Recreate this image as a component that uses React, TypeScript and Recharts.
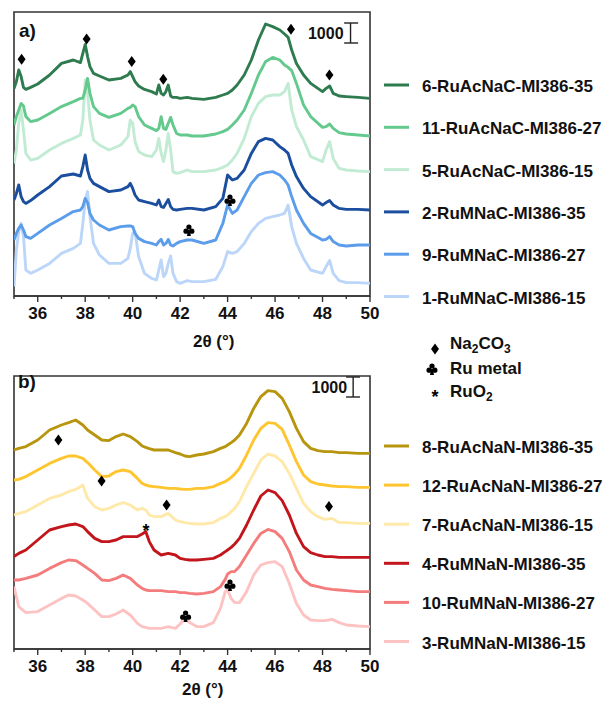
import React from 'react';
import { ComposedChart, Line, XAxis, YAxis, ReferenceLine, ReferenceArea, Scatter } from 'recharts';

const FONT = '"Liberation Sans", Arial, Helvetica, sans-serif';
const AXIS_COLOR = '#333333';
const TEXT_COLOR = '#111111';

// x-axis ticks (2θ, degrees); even values get labels
const TICKS = [35, 36, 37, 38, 39, 40, 41, 42, 43, 44, 45, 46, 47, 48, 49, 50];
const SCALE_BAR = 1000; // counts

// ---------------- Panel a ----------------
const A_THETA = [35.0, 35.1, 35.2, 35.3, 35.4, 35.5, 35.7, 36.0, 36.5, 37.0, 37.5, 37.8, 37.9, 38.0, 38.1, 38.2, 38.35, 38.6, 39.0, 39.5, 39.8, 39.9, 40.0, 40.1, 40.25, 40.5, 40.8, 41.0, 41.1, 41.2, 41.3, 41.4, 41.5, 41.6, 41.7, 41.85, 42.0, 42.3, 42.5, 43.0, 43.5, 43.8, 44.0, 44.2, 44.4, 44.7, 45.0, 45.3, 45.6, 45.9, 46.2, 46.4, 46.55, 46.7, 46.9, 47.2, 47.5, 48.0, 48.15, 48.3, 48.45, 48.7, 49.0, 49.5, 50.0];

const A_NAMES = ['6-RuAcNaC-MI386-35', '11-RuAcNaC-MI386-27', '5-RuAcNaC-MI386-15', '2-RuMNaC-MI386-35', '9-RuMNaC-MI386-27', '1-RuMNaC-MI386-15'];
const A_COLORS = ['#2E7B4F', '#64C98D', '#C2EBD3', '#1B4E9E', '#5B9CEB', '#BBD6F8'];

const A_RUACNAC_35 = [10330, 10670, 11250, 10920, 10380, 10280, 10380, 10550, 11000, 11580, 11750, 11620, 12080, 12530, 11920, 11420, 11080, 10950, 10750, 10830, 11000, 11170, 10920, 10670, 10450, 10280, 10170, 10050, 10500, 10080, 10000, 10170, 10500, 9950, 9880, 9880, 9830, 9880, 9830, 9780, 9880, 10000, 10080, 10250, 10500, 11000, 11750, 12750, 13550, 13420, 13250, 13050, 12880, 12250, 11580, 11000, 10580, 10170, 10330, 10450, 10080, 9950, 9920, 9880, 9830];
const A_RUACNAC_27 = [8500, 8920, 9250, 9580, 9450, 8920, 8670, 8750, 9080, 9420, 9670, 9830, 9830, 10250, 10830, 10080, 9420, 9080, 8880, 9080, 9330, 9380, 9500, 9420, 8920, 8500, 8330, 8220, 8330, 8920, 8330, 8280, 8580, 8880, 8500, 8080, 8000, 8000, 7950, 7950, 8050, 8170, 8280, 8500, 8750, 9250, 10080, 11000, 11670, 11880, 11750, 11500, 11380, 11220, 10580, 9500, 8920, 8380, 8420, 8550, 8330, 8120, 8050, 8000, 7950];
const A_RUACNAC_15 = [6580, 7250, 8580, 9250, 8250, 7080, 6750, 6830, 7250, 7580, 7830, 8000, 8750, 10750, 10080, 8750, 7750, 7500, 7250, 7500, 7920, 8750, 8580, 7670, 7170, 7000, 6920, 7250, 7830, 7080, 6670, 7250, 8080, 7250, 6170, 6080, 6120, 6250, 6170, 6170, 6250, 6380, 6500, 6750, 7080, 7830, 8920, 9580, 9920, 10000, 10000, 10170, 10580, 9250, 8420, 7750, 6920, 6670, 7250, 7670, 6830, 6330, 6250, 6200, 6170];
const A_RUMNAC_35 = [4750, 5080, 5500, 4920, 4670, 4580, 4720, 5000, 5420, 5950, 6050, 5950, 6420, 7000, 6250, 5830, 5580, 5420, 5170, 5250, 5420, 5580, 5330, 5000, 4750, 4670, 4580, 4500, 4750, 4420, 4380, 4580, 4780, 4420, 4280, 4250, 4280, 4330, 4330, 4250, 4420, 4830, 6000, 5750, 5830, 6250, 7080, 7670, 7830, 7750, 7420, 7250, 7080, 6500, 5920, 5330, 4920, 4500, 4620, 4720, 4500, 4330, 4280, 4280, 4250];
const A_RUMNAC_27 = [2750, 3080, 3330, 3500, 3250, 2920, 2830, 3080, 3500, 3830, 4170, 4250, 4420, 4830, 4620, 4080, 3750, 3500, 3250, 3420, 3450, 3450, 3420, 3080, 2830, 2670, 2580, 2500, 2670, 2780, 2500, 2580, 2780, 2500, 2450, 2580, 2670, 2750, 2750, 2580, 2750, 3580, 4500, 4080, 4250, 4920, 5580, 6000, 6120, 6170, 6000, 5750, 5500, 4920, 4250, 3580, 3080, 2750, 2780, 2920, 2670, 2500, 2450, 2500, 2500];
const A_RUMNAC_15 = [420, 2250, 3170, 3580, 2920, 1250, 1080, 1250, 1580, 2080, 2330, 2580, 3580, 4750, 5170, 3920, 2580, 2000, 1580, 1580, 1830, 2330, 3080, 3170, 1920, 1080, 830, 750, 1250, 1750, 920, 1080, 1580, 1950, 1080, 670, 580, 720, 670, 670, 780, 1420, 2170, 2080, 2170, 2580, 3170, 3580, 3830, 3920, 4000, 4080, 4500, 3420, 2580, 1830, 1250, 1080, 1420, 1720, 1080, 720, 620, 620, 580];

const A_DIAMONDS = [
  { x: 35.32, y: 11790 }, { x: 38.06, y: 12800 }, { x: 39.96, y: 11670 },
  { x: 41.29, y: 10790 }, { x: 46.67, y: 13290 }, { x: 48.29, y: 11000 },
];
const A_CLUBS = [{ x: 42.37, y: 3250 }, { x: 44.1, y: 4750 }];
const A_STARS: { x: number; y: number }[] = [];

// ---------------- Panel b ----------------
const B_THETA = [35.0, 35.2, 35.5, 36.0, 36.5, 37.0, 37.3, 37.6, 37.9, 38.1, 38.4, 38.7, 39.0, 39.3, 39.6, 39.9, 40.2, 40.4, 40.55, 40.7, 40.9, 41.2, 41.5, 41.8, 42.0, 42.2, 42.4, 42.7, 43.0, 43.4, 43.7, 43.9, 44.0, 44.15, 44.3, 44.5, 44.8, 45.1, 45.4, 45.7, 46.0, 46.3, 46.6, 46.9, 47.2, 47.5, 47.8, 48.1, 48.4, 48.7, 49.0, 49.5, 50.0];

const B_NAMES = ['8-RuAcNaN-MI386-35', '12-RuAcNaN-MI386-27', '7-RuAcNaN-MI386-15', '4-RuMNaN-MI386-35', '10-RuMNaN-MI386-27', '3-RuMNaN-MI386-15'];
const B_COLORS = ['#B8950E', '#FFC52E', '#FFE9A8', '#C2151C', '#F47C7C', '#FDC3C3'];

const B_RUACNAN_35 = [9950, 10030, 10120, 10450, 10950, 11200, 11320, 11450, 11200, 10950, 10700, 10450, 10420, 10620, 10750, 10620, 10370, 10150, 10080, 10020, 9950, 9950, 9950, 9820, 9750, 9650, 9620, 9700, 9750, 9870, 10030, 10120, 10200, 10320, 10450, 10700, 11280, 12030, 12620, 12920, 12870, 12530, 11870, 11030, 10370, 10030, 9920, 9870, 9870, 9820, 9820, 9780, 9780];
const B_RUACNAN_27 = [8450, 8480, 8620, 8950, 9280, 9530, 9650, 9650, 9530, 9320, 8950, 8620, 8650, 8870, 8950, 8870, 8530, 8280, 8200, 8150, 8120, 8080, 8030, 8030, 8000, 7980, 7980, 8030, 8030, 8120, 8280, 8370, 8450, 8580, 8750, 9030, 9700, 10450, 11030, 11320, 11280, 10980, 10200, 9370, 8700, 8370, 8250, 8200, 8150, 8120, 8120, 8080, 8080];
const B_RUACNAN_15 = [6700, 6780, 6870, 7200, 7530, 7700, 7870, 7980, 8200, 7530, 7120, 6950, 7030, 7200, 7320, 7200, 6950, 7030, 6950, 6700, 6620, 6620, 6780, 6450, 6370, 6320, 6280, 6250, 6250, 6320, 6530, 6620, 6700, 6870, 7030, 7370, 8120, 8780, 9450, 9750, 9650, 9370, 8780, 8030, 7280, 6870, 6620, 6480, 6530, 6320, 6320, 6280, 6280];
const B_RUMNAN_35 = [4620, 4780, 4950, 5450, 5950, 6120, 6200, 6250, 6120, 5870, 5530, 5370, 5370, 5450, 5620, 5620, 5620, 5750, 5870, 5370, 4950, 4700, 4780, 4700, 4530, 4480, 4450, 4450, 4480, 4530, 4700, 4870, 4950, 5080, 5250, 5530, 6200, 6950, 7650, 7950, 7820, 7420, 6700, 5780, 5120, 4820, 4700, 4620, 4620, 4580, 4580, 4580, 4580];
const B_RUMNAN_27 = [3450, 3450, 3530, 3700, 4030, 4320, 4450, 4420, 4200, 4030, 3780, 3450, 3420, 3530, 3700, 3530, 3200, 3030, 2950, 2920, 2920, 2920, 2870, 2870, 2820, 2820, 2780, 2750, 2780, 2870, 3120, 3480, 3750, 3870, 3870, 4120, 4700, 5280, 5780, 5980, 5870, 5530, 4870, 3950, 3450, 3200, 3120, 3030, 2980, 2950, 2920, 2870, 2870];
const B_RUMNAN_15 = [3120, 2120, 1820, 1870, 2200, 2530, 2700, 2650, 2450, 2280, 1950, 1620, 1620, 1750, 1950, 1700, 1280, 1120, 1080, 1030, 1030, 1030, 1120, 1030, 1250, 1530, 1320, 1120, 1120, 1320, 2030, 2870, 2950, 2530, 2320, 2320, 2870, 3700, 4200, 4320, 4370, 4120, 3280, 2280, 1700, 1450, 1420, 1420, 1480, 1320, 1200, 1150, 1120];

const B_DIAMONDS = [{ x: 36.87, y: 10450 }, { x: 38.69, y: 8400 }, { x: 41.43, y: 7200 }, { x: 48.27, y: 7120 }];
const B_CLUBS = [{ x: 42.23, y: 1650 }, { x: 44.1, y: 3200 }];
const B_STARS = [{ x: 40.56, y: 6120 }];

// ---------------- shapes ----------------
const diamondPath = (cx: number, cy: number) => `M${cx},${cy - 5.5} L${cx + 4},${cy} L${cx},${cy + 5.5} L${cx - 4},${cy} Z`;

const DiamondGlyph = ({ cx, cy }: any) => <path d={diamondPath(cx, cy)} fill="#000" />;
const ClubGlyph = ({ cx, cy }: any) => (
  <g fill="#000">
    <circle cx={cx} cy={cy - 3} r={2.6} />
    <circle cx={cx - 2.9} cy={cy + 1.2} r={2.6} />
    <circle cx={cx + 2.9} cy={cy + 1.2} r={2.6} />
    <path d={`M${cx - 0.8},${cy} L${cx + 0.8},${cy} L${cx + 2},${cy + 6} L${cx - 2},${cy + 6} Z`} />
  </g>
);
const StarGlyph = ({ cx, cy }: any) => (
  <text x={cx} y={cy + 10} textAnchor="middle" fontSize={18} fontWeight="bold" fontFamily={FONT} fill="#000">*</text>
);

const renderTick = (props: any) => {
  const { x, y, payload } = props;
  const v = payload.value;
  const major = v % 2 === 0;
  return (
    <g>
      <line x1={x} x2={x} y1={y} y2={y + (major ? 6 : 3)} stroke={AXIS_COLOR} strokeWidth={1.4} />
      {major && (
        <text x={x} y={y + 23} textAnchor="middle" fontSize={17} fontWeight="bold" fontFamily={FONT} fill={TEXT_COLOR}>
          {v}
        </text>
      )}
    </g>
  );
};

type Pt = { x: number; y: number };
type PanelProps = {
  theta: number[];
  series: number[][];
  names: string[];
  colors: string[];
  yDomain: [number, number];
  height: number;
  margin: { top: number; right: number; bottom: number; left: number };
  diamonds: Pt[];
  clubs: Pt[];
  stars: Pt[];
  bar: { x: number; xl: number; xr: number; y0: number; labelOffset: number };
};

function Panel(p: PanelProps) {
  const data = p.theta.map((x, i) => {
    const row: Record<string, number> = { x };
    p.series.forEach((s, k) => {
      row['s' + k] = s[i];
    });
    return row;
  });
  const order = p.series.map((_, k) => k).reverse();
  const barStyle = { stroke: '#222', strokeWidth: 1.4 };
  return (
    <ComposedChart width={606} height={p.height} data={data} margin={p.margin}>
      <XAxis
        dataKey="x"
        type="number"
        domain={[35, 50]}
        ticks={TICKS}
        interval={0}
        allowDataOverflow
        height={30}
        tickSize={0}
        tickMargin={0}
        tickLine={false}
        axisLine={{ stroke: AXIS_COLOR, strokeWidth: 1.6 }}
        tick={renderTick}
      />
      <YAxis hide type="number" domain={p.yDomain} allowDataOverflow />
      <ReferenceArea
        x1={35}
        x2={50}
        y1={p.yDomain[0]}
        y2={p.yDomain[1]}
        fill="none"
        fillOpacity={0}
        stroke={AXIS_COLOR}
        strokeWidth={1.6}
        ifOverflow="visible"
      />
      {order.map((k) => (
        <Line
          key={k}
          dataKey={'s' + k}
          name={p.names[k]}
          stroke={p.colors[k]}
          strokeWidth={2.9}
          strokeLinejoin="round"
          type="linear"
          dot={false}
          activeDot={false}
          isAnimationActive={false}
        />
      ))}
      <Scatter data={p.diamonds} dataKey="y" shape={DiamondGlyph} isAnimationActive={false} />
      <Scatter data={p.clubs} dataKey="y" shape={ClubGlyph} isAnimationActive={false} />
      {p.stars.length > 0 && <Scatter data={p.stars} dataKey="y" shape={StarGlyph} isAnimationActive={false} />}
      <ReferenceLine
        segment={[{ x: p.bar.x, y: p.bar.y0 }, { x: p.bar.x, y: p.bar.y0 + SCALE_BAR }]}
        {...barStyle}
        ifOverflow="visible"
        label={{
          value: String(SCALE_BAR),
          position: 'left',
          offset: p.bar.labelOffset,
          fontSize: 16,
          fontWeight: 'bold',
          fill: TEXT_COLOR,
          fontFamily: FONT,
        }}
      />
      <ReferenceLine segment={[{ x: p.bar.xl, y: p.bar.y0 }, { x: p.bar.xr, y: p.bar.y0 }]} {...barStyle} ifOverflow="visible" />
      <ReferenceLine
        segment={[{ x: p.bar.xl, y: p.bar.y0 + SCALE_BAR }, { x: p.bar.xr, y: p.bar.y0 + SCALE_BAR }]}
        {...barStyle}
        ifOverflow="visible"
      />
    </ComposedChart>
  );
}

function LegendBlock({ names, colors, top, step }: { names: string[]; colors: string[]; top: number; step: number }) {
  return (
    <g>
      {names.map((n, i) => {
        const y = top + i * step;
        return (
          <g key={n}>
            <line x1={384} x2={409} y1={y} y2={y} stroke={colors[i]} strokeWidth={3} />
            <text x={422} y={y + 7} fontSize={17} fontWeight="bold" fontFamily={FONT} fill={TEXT_COLOR}>
              {n}
            </text>
          </g>
        );
      })}
    </g>
  );
}

export default function App() {
  const textProps = { fontFamily: FONT, fontWeight: 'bold' as const, fill: TEXT_COLOR };
  return (
    <div style={{ position: 'absolute', left: 0, top: 0, width: 606, height: 702, background: '#fff' }}>
      <div style={{ position: 'absolute', left: 0, top: 0 }}>
        <Panel
          theta={A_THETA}
          series={[A_RUACNAC_35, A_RUACNAC_27, A_RUACNAC_15, A_RUMNAC_35, A_RUMNAC_27, A_RUMNAC_15]}
          names={A_NAMES}
          colors={A_COLORS}
          yDomain={[-50, 14150]}
          height={340}
          margin={{ top: 12, right: 236, bottom: 14, left: 14 }}
          diamonds={A_DIAMONDS}
          clubs={A_CLUBS}
          stars={A_STARS}
          bar={{ x: 49.18, xl: 48.91, xr: 49.5, y0: 12600, labelOffset: 7 }}
        />
      </div>
      <div style={{ position: 'absolute', left: 0, top: 360 }}>
        <Panel
          theta={B_THETA}
          series={[B_RUACNAN_35, B_RUACNAN_27, B_RUACNAN_15, B_RUMNAN_35, B_RUMNAN_27, B_RUMNAN_15]}
          names={B_NAMES}
          colors={B_COLORS}
          yDomain={[0, 13650]}
          height={342}
          margin={{ top: 16, right: 236, bottom: 23, left: 14 }}
          diamonds={B_DIAMONDS}
          clubs={B_CLUBS}
          stars={B_STARS}
          bar={{ x: 49.29, xl: 48.99, xr: 49.58, y0: 12600, labelOffset: 6 }}
        />
      </div>
      <svg width={606} height={702} style={{ position: 'absolute', left: 0, top: 0, pointerEvents: 'none' }}>
        <text x={19} y={37} fontSize={19} {...textProps}>a)</text>
        <text x={18} y={388} fontSize={19} {...textProps}>b)</text>
        <text x={193} y={347} fontSize={17} {...textProps}>2θ (°)</text>
        <text x={182} y={695} fontSize={17} {...textProps}>2θ (°)</text>
        <LegendBlock names={A_NAMES} colors={A_COLORS} top={85} step={42.3} />
        <LegendBlock names={B_NAMES} colors={B_COLORS} top={446} step={39.1} />
        <DiamondGlyph cx={435} cy={349} />
        <text x={450} y={349} fontSize={17} {...textProps}>
          Na<tspan fontSize={12} dy={4}>2</tspan>
          <tspan dy={-4}>CO</tspan>
          <tspan fontSize={12} dy={4}>3</tspan>
        </text>
        <ClubGlyph cx={432} cy={369} />
        <text x={450} y={374} fontSize={17} {...textProps}>Ru metal</text>
        <StarGlyph cx={435} cy={393} />
        <text x={450} y={397} fontSize={17} {...textProps}>
          RuO<tspan fontSize={12} dy={4}>2</tspan>
        </text>
      </svg>
    </div>
  );
}
